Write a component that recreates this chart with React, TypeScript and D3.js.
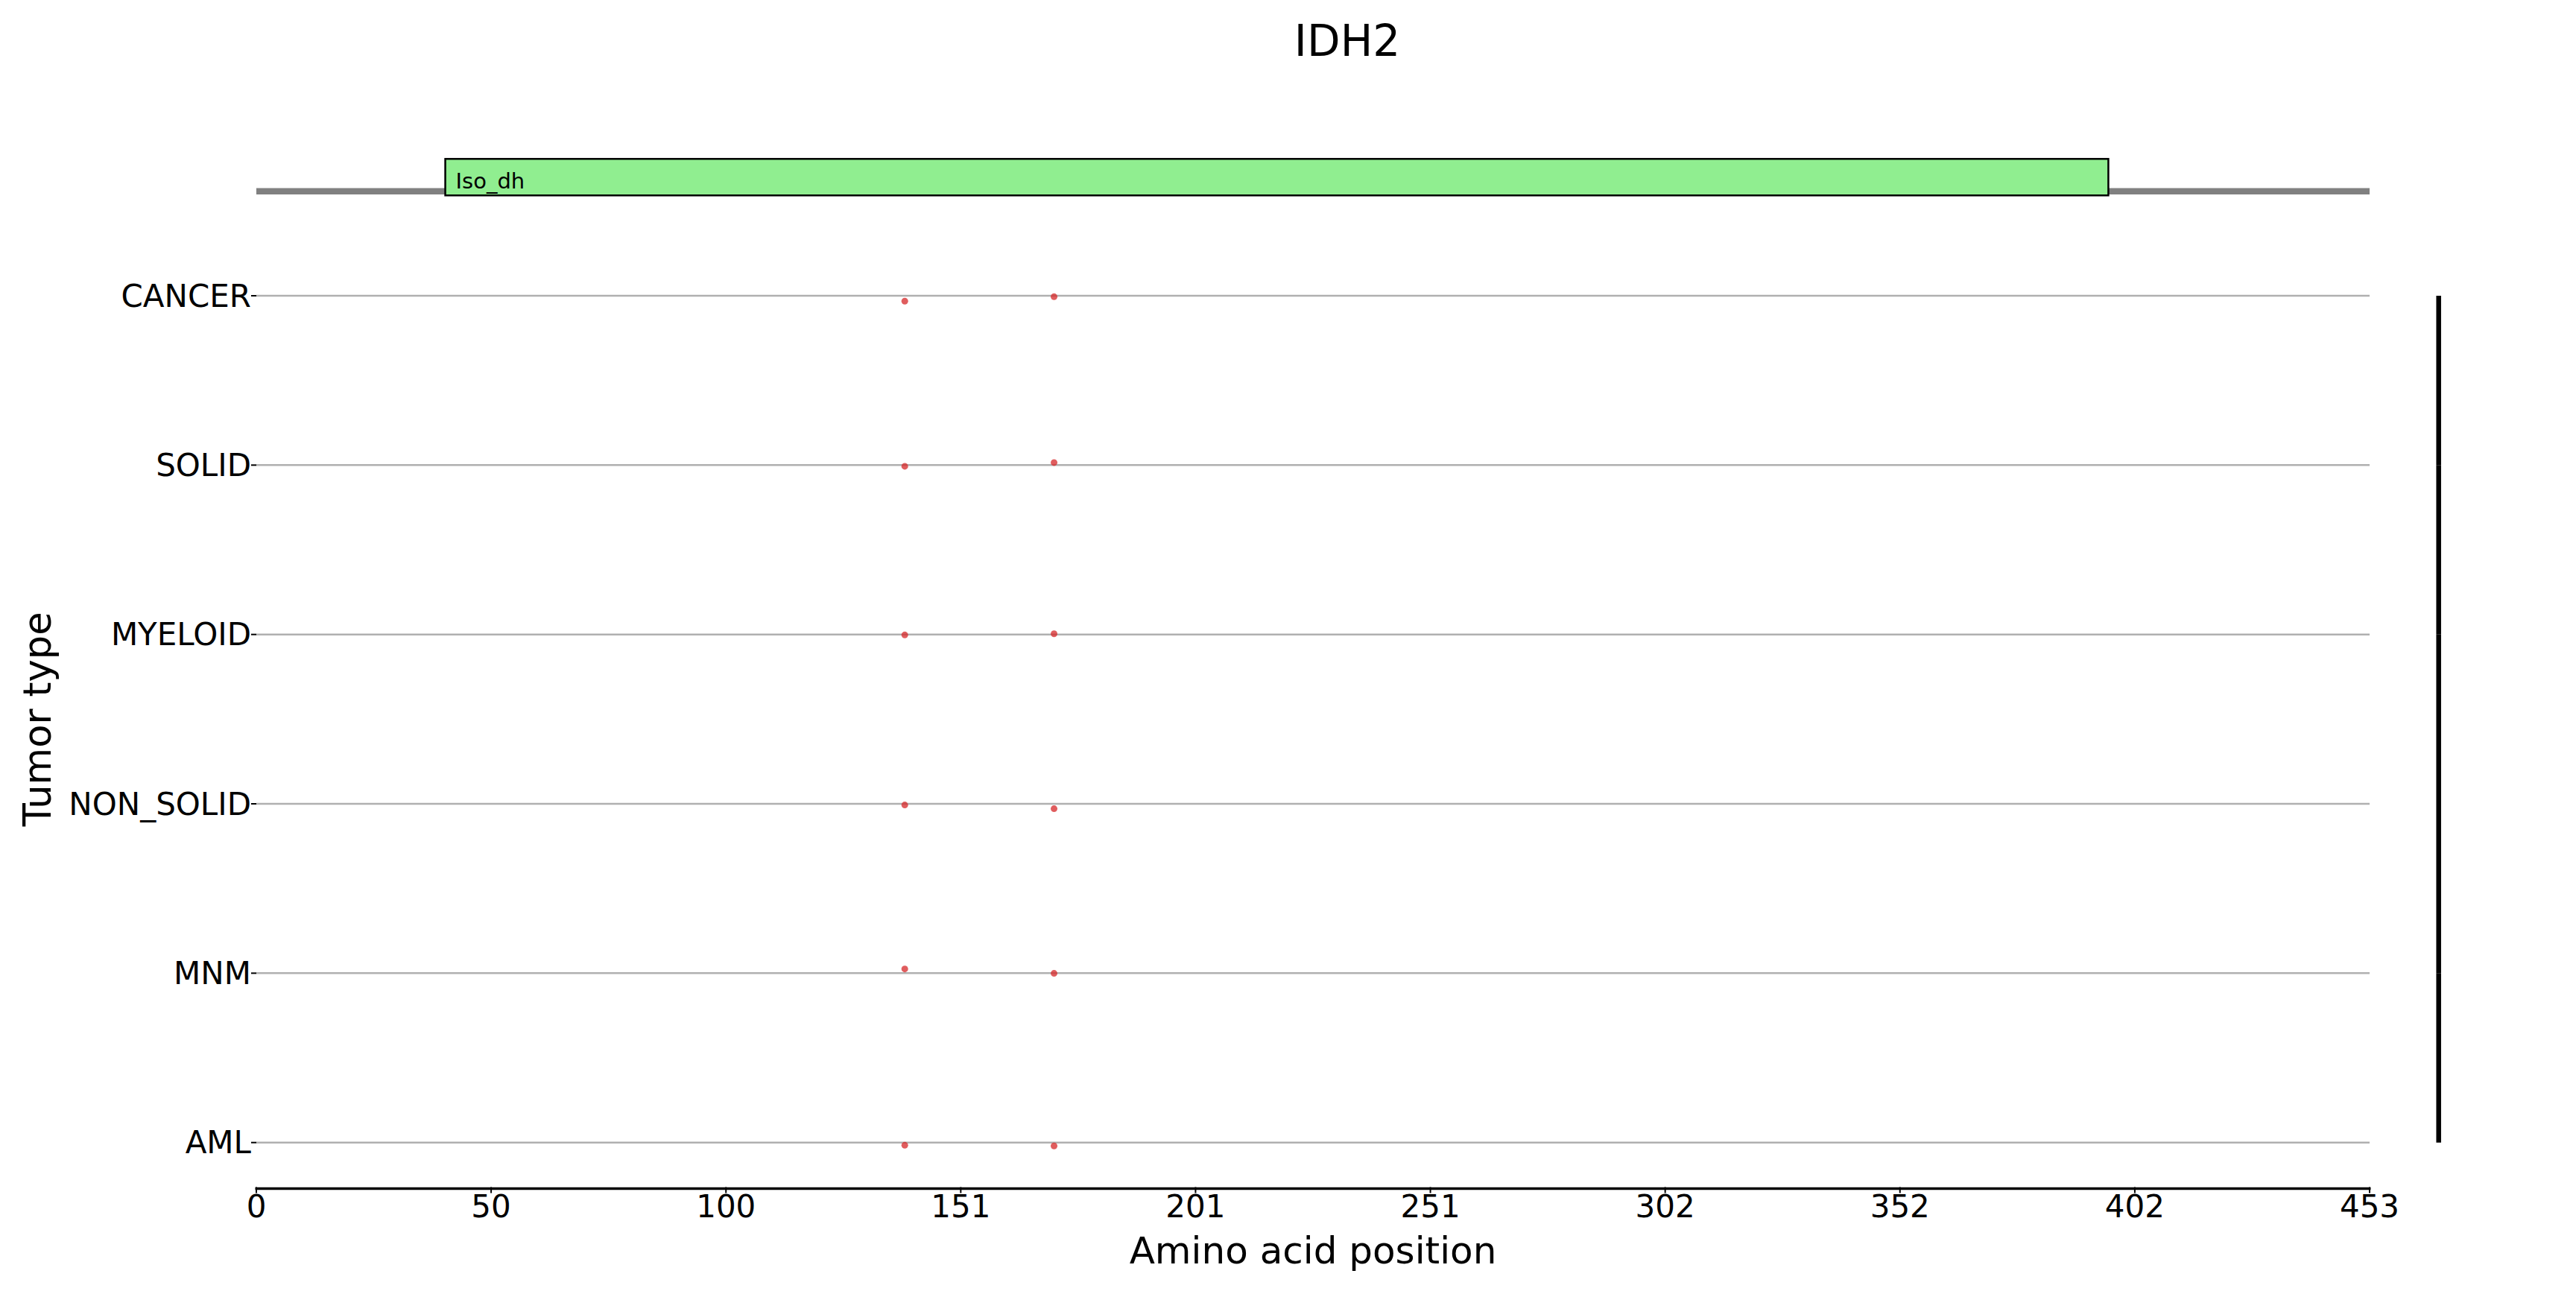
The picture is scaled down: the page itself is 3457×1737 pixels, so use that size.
import React from "react";
import * as d3 from "d3";

const title = "IDH2";
const proteinLength = 453;
const categories = ["CANCER", "SOLID", "MYELOID", "NON_SOLID", "MNM", "AML"];
const mutationPositions = [139, 171];
// vertical jitter (in row units), per row, for each mutation position
const jitterFirst = [0.032, 0.007, 0.003, 0.007, -0.025, 0.016];
const jitterSecond = [0.006, -0.015, -0.004, 0.029, 0.001, 0.02];
const domainNames = ["Iso_dh"];
const domainStarts = [40.5];
const domainEnds = [397];
const xTickValues = [0, 50.33, 100.67, 151, 201.33, 251.67, 302, 352.33, 402.67, 453];
const xTickLabels = ["0", "50", "100", "151", "201", "251", "302", "352", "402", "453"];

const W = 3457;
const H = 1737;
const FONT = "DejaVu Sans, sans-serif";

export default function App() {
  const x = d3.scaleLinear().domain([0, proteinLength]).range([344, 3180]);
  const y = d3.scaleLinear().domain([0, categories.length - 1]).range([397, 1533.7]);
  const axisY = 1595.5;
  const backboneY = 256.7;
  const boxTop = 213.3;
  const boxBottom = 262.3;
  const barX = 3272.7;

  const jitters = [jitterFirst, jitterSecond];

  return (
    <svg
      width={W}
      height={H}
      style={{ position: "absolute", left: 0, top: 0, background: "#fff" }}
      fontFamily={FONT}
    >
      <rect x={0} y={0} width={W} height={H} fill="#fff" />
      {/* title */}
      <text x={1808} y={75} fontSize={58} textAnchor="middle" fill="#000">
        {title}
      </text>

      {/* protein backbone */}
      <line
        x1={x(0)}
        x2={x(proteinLength)}
        y1={backboneY}
        y2={backboneY}
        stroke="#808080"
        strokeWidth={8.5}
      />
      {domainNames.map((name, i) => (
        <g key={name}>
          <rect
            x={x(domainStarts[i])}
            y={boxTop}
            width={x(domainEnds[i]) - x(domainStarts[i])}
            height={boxBottom - boxTop}
            fill="#90EE90"
            stroke="#000"
            strokeWidth={2.5}
          />
          <text x={x(domainStarts[i]) + 14} y={253} fontSize={29} fill="#000">
            {name}
          </text>
        </g>
      ))}

      {/* grid lines and y labels */}
      {categories.map((c, i) => (
        <g key={c}>
          <line x1={x(0)} x2={x(proteinLength)} y1={y(i)} y2={y(i)} stroke="#b0b0b0" strokeWidth={2.5} />
          <line x1={x(0) - 7} x2={x(0)} y1={y(i)} y2={y(i)} stroke="#000" strokeWidth={2} />
          <text
            x={x(0) - 7}
            y={y(i)}
            fontSize={42}
            textAnchor="end"
            dominantBaseline="central"
            fill="#000"
          >
            {c}
          </text>
        </g>
      ))}

      {/* mutation points */}
      {categories.map((c, i) =>
        mutationPositions.map((p, j) => (
          <circle
            key={c + p}
            cx={x(p)}
            cy={y(i + jitters[j][i])}
            r={4.5}
            fill="#d62728"
            fillOpacity={0.75}
          />
        ))
      )}

      {/* right black bar */}
      {categories.slice(1).map((c, i) => (
        <line key={"bar" + c} x1={barX} x2={barX} y1={y(i)} y2={y(i + 1)} stroke="#000" strokeWidth={6.5} />
      ))}

      {/* x axis */}
      <line x1={x(0) - 1.5} x2={x(proteinLength) + 1.5} y1={axisY} y2={axisY} stroke="#000" strokeWidth={3.5} />
      {xTickValues.map((v, i) => (
        <g key={"xt" + i}>
          <line x1={x(v)} x2={x(v)} y1={axisY - 2} y2={axisY + 6} stroke="#000" strokeWidth={2} />
          <text x={x(v)} y={1634} fontSize={42} textAnchor="middle" fill="#000">
            {xTickLabels[i]}
          </text>
        </g>
      ))}
      <text x={1762} y={1696} fontSize={50} textAnchor="middle" fill="#000">
        Amino acid position
      </text>
      <text
        transform={`translate(68, ${(y(0) + y(categories.length - 1)) / 2}) rotate(-90)`}
        fontSize={51}
        textAnchor="middle"
        fill="#000"
      >
        Tumor type
      </text>
    </svg>
  );
}
